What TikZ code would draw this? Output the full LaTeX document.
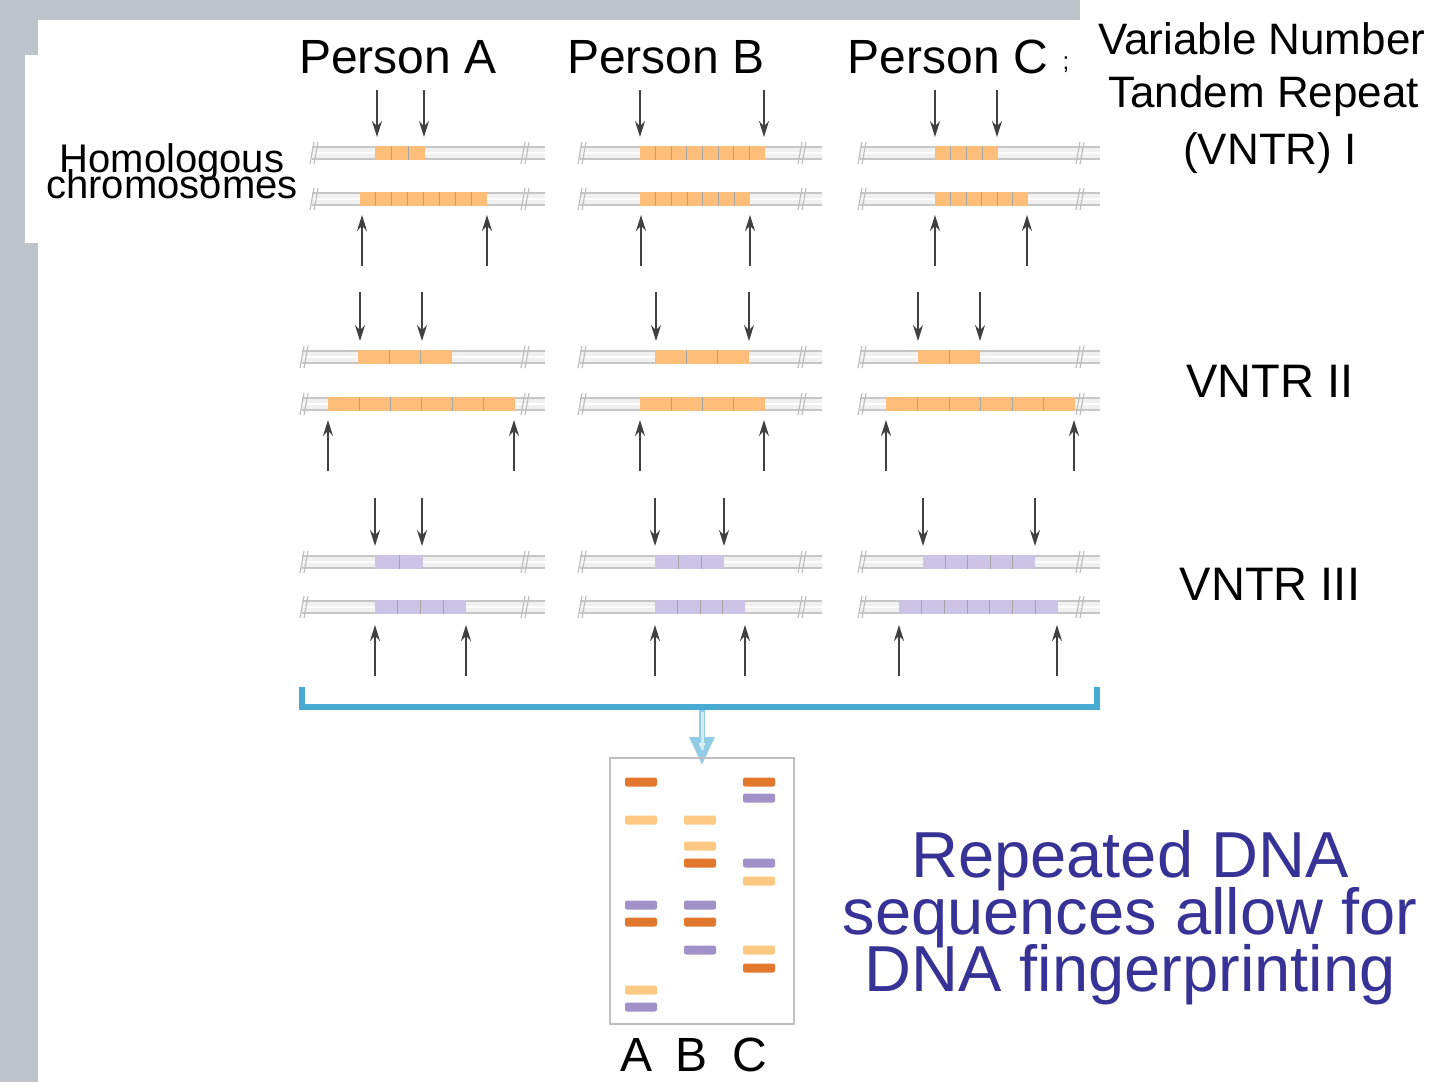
\documentclass[tikz,border=0pt]{standalone}
\usepackage{fontspec}
\setmainfont{Liberation Sans}
\usetikzlibrary{arrows.meta}
\definecolor{rep}{RGB}{252,190,120}
\definecolor{pur}{RGB}{205,195,230}
\definecolor{bband}{RGB}{225,120,45}
\definecolor{lband}{RGB}{252,200,130}
\definecolor{pband}{RGB}{160,145,200}
\definecolor{brk}{RGB}{70,170,210}
\definecolor{txtb}{RGB}{55,50,150}
\definecolor{bg}{RGB}{190,194,202}
\newcommand\chrom[7]{%
 \fill[gray!12] (#1,#3-6) rectangle (#2,#3+6);
 \draw[gray!45,line width=0.6pt] (#1,#3-6) -- (#2,#3-6) (#1,#3+6) -- (#2,#3+6);
 \draw[white,line width=0.8pt] (#1,#3) -- (#2,#3);
 \draw[gray!50,line width=0.6pt] (#1+2,#3-11) -- (#1-2,#3+11) (#1+6,#3-11) -- (#1+2,#3+11);
 \draw[gray!50,line width=0.6pt] (#2-20,#3-11) -- (#2-24,#3+11) (#2-16,#3-11) -- (#2-20,#3+11);
 \fill[#7] (#4,#3-7) rectangle (#5,#3+7);
 \pgfmathsetmacro\st{(#5-#4)/#6}
 \foreach \k in {1,...,#6}{\ifnum\k<#6 \draw[gray!70,line width=0.4pt] ({#4+\k*\st},#3-7) -- ({#4+\k*\st},#3+7);\fi}
}
\newcommand\dar[3]{\draw[-{Stealth[length=8pt,width=5pt]},line width=0.8pt,black!75] (#1,#2) -- (#1,#3);}
\newcommand\band[3]{\fill[#3,rounded corners=1pt] (#1-16,#2-4.5) rectangle (#1+16,#2+4.5);}
\begin{document}
\begin{tikzpicture}[x=0.5pt,y=-0.5pt,
 lab/.style={font=\fontsize{24}{26}\selectfont,anchor=center,inner sep=0pt}]
\useasboundingbox (0,0) rectangle (1440,1082);
\clip (0,0) rectangle (1440,1082);
\fill[white] (0,0) rectangle (1440,1082);
\fill[bg] (0,0) rectangle (38,1082);
\fill[bg] (0,0) rectangle (1080,20);
\fill[white] (25,55) rectangle (300,243);
% titles
\node[lab] (pa) at (398,57) {Person A};
\node[lab] (pb) at (666,57) {Person B};
\node[lab] (pc) at (948,57) {Person C};
\node[font=\fontsize{12}{12}\selectfont,inner sep=0pt] (sc) at (1066,65) {;};
\node[font=\fontsize{20}{22}\selectfont,align=center,inner sep=0pt] (hom) at (172,171) {Homologous\\[-9pt]chromosomes};
\node[font=\fontsize{22}{26.5}\selectfont,align=left,inner sep=0pt,anchor=north west] (v1) at (1098,22) {Variable Number\\\hspace*{5pt}Tandem Repeat};
\node[font=\fontsize{22}{26}\selectfont,inner sep=0pt] (v1b) at (1270,153) {(VNTR) I};
\node[font=\fontsize{23.5}{28}\selectfont,inner sep=0pt] (v2) at (1270,381) {VNTR II};
\node[font=\fontsize{23.5}{28}\selectfont,inner sep=0pt] (v3) at (1270,584) {VNTR III};
% row I
\chrom{312}{545}{153}{375}{425}{3}{rep}
\chrom{312}{545}{199}{360}{487}{8}{rep}
\chrom{580}{822}{153}{640}{765}{8}{rep}
\chrom{580}{822}{199}{640}{750}{7}{rep}
\chrom{860}{1100}{153}{935}{998}{4}{rep}
\chrom{860}{1100}{199}{935}{1028}{6}{rep}
\foreach \x in {377,424,640,764,935,997}{\dar{\x}{90}{137}}
\foreach \x in {362,487,641,750,935,1027}{\dar{\x}{266}{215}}
% row II
\chrom{302}{545}{357}{358}{452}{3}{rep}
\chrom{302}{545}{404}{328}{515}{6}{rep}
\chrom{580}{822}{357}{655}{749}{3}{rep}
\chrom{580}{822}{404}{640}{765}{4}{rep}
\chrom{860}{1100}{357}{918}{980}{2}{rep}
\chrom{860}{1100}{404}{886}{1075}{6}{rep}
\foreach \x in {360,422,656,749,918,980}{\dar{\x}{292}{341}}
\foreach \x in {328,514,640,764,886,1074}{\dar{\x}{471}{420}}
% row III
\chrom{302}{545}{562}{375}{423}{2}{pur}
\chrom{302}{545}{607}{375}{466}{4}{pur}
\chrom{580}{822}{562}{655}{724}{3}{pur}
\chrom{580}{822}{607}{655}{745}{4}{pur}
\chrom{860}{1100}{562}{923}{1035}{5}{pur}
\chrom{860}{1100}{607}{899}{1058}{7}{pur}
\foreach \x in {375,422,655,724,923,1035}{\dar{\x}{498}{546}}
\foreach \x in {375,466,655,745,899,1057}{\dar{\x}{676}{625}}
% bracket
\coordinate (bl) at (302,687);
\coordinate (br) at (1097,687);
\draw[brk,line width=3pt,line join=miter] (bl) -- (302,707) -- (1097,707) -- (br);
\coordinate (as) at (702,710);
\coordinate (ae) at (702,765);
\draw[-{Triangle[open,length=14pt,width=12pt]},draw=brk!60,line width=3pt] (as) -- (ae);
\draw[brk!25,line width=1.5pt] (702,712) -- (702,750);
% gel
\node[draw=gray!50,line width=0.8pt,minimum width=92pt,minimum height=133pt,inner sep=0pt] (gel) at (702,891) {};
\band{641}{782}{bband}\band{641}{820}{lband}\band{641}{905}{pband}\band{641}{922}{bband}\band{641}{990}{lband}\band{641}{1007}{pband}
\band{700}{820}{lband}\band{700}{846}{lband}\band{700}{863}{bband}\band{700}{905}{pband}\band{700}{922}{bband}\band{700}{950}{pband}
\band{759}{782}{bband}\band{759}{798}{pband}\band{759}{863}{pband}\band{759}{881}{lband}\band{759}{950}{lband}\band{759}{968}{bband}
\node[font=\fontsize{24}{28}\selectfont,inner sep=0pt] (la) at (636,1055) {A};
\node[font=\fontsize{24}{28}\selectfont,inner sep=0pt] (lb) at (691,1055) {B};
\node[font=\fontsize{24}{28}\selectfont,inner sep=0pt] (lc) at (750,1055) {C};
\node[font=\fontsize{32.5}{34}\selectfont,text=txtb,align=center,inner sep=0pt] (msg) at (1130,918) {Repeated DNA\\[-5.5pt]sequences allow for\\[-5.5pt]DNA fingerprinting};
\end{tikzpicture}
\end{document}
